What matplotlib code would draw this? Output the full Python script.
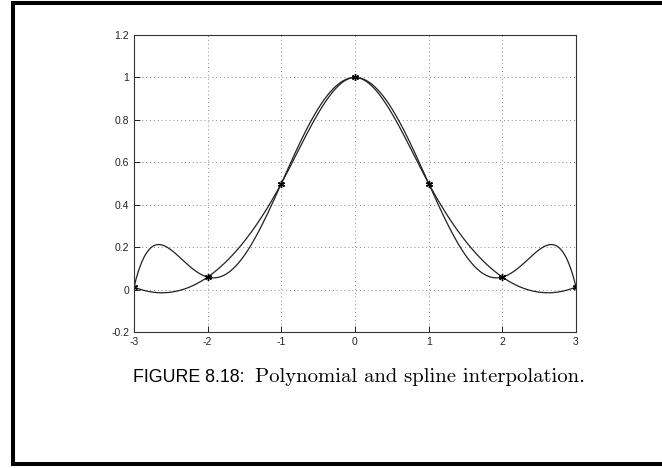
import numpy as np
import matplotlib
matplotlib.use("Agg")
import matplotlib.pyplot as plt
from matplotlib.lines import Line2D

# interpolation nodes
x_nodes = [-3, -2, -1, 0, 1, 2, 3]
y_nodes = [0.012, 0.059, 0.5, 1.0, 0.5, 0.059, 0.012]

x_ticks = [-3, -2, -1, 0, 1, 2, 3]
y_ticks = [-0.2, 0, 0.2, 0.4, 0.6, 0.8, 1, 1.2]
y_tick_labels = ["-0.2", "0", "0.2", "0.4", "0.6", "0.8", "1", "1.2"]


def notaknot_spline(xk, yk, xs):
    # cubic spline with not-a-knot end conditions (like MATLAB's spline)
    xk = np.asarray(xk, float)
    yk = np.asarray(yk, float)
    n = len(xk)
    h = np.diff(xk)
    A = np.zeros((n, n))
    b = np.zeros(n)
    A[0, 0], A[0, 1], A[0, 2] = h[1], -(h[0] + h[1]), h[0]
    A[-1, -3], A[-1, -2], A[-1, -1] = h[-1], -(h[-2] + h[-1]), h[-2]
    for i in range(1, n - 1):
        A[i, i - 1] = h[i - 1]
        A[i, i] = 2 * (h[i - 1] + h[i])
        A[i, i + 1] = h[i]
        b[i] = 6 * ((yk[i + 1] - yk[i]) / h[i] - (yk[i] - yk[i - 1]) / h[i - 1])
    M = np.linalg.solve(A, b)
    idx = np.clip(np.searchsorted(xk, xs) - 1, 0, n - 2)
    x0, x1 = xk[idx], xk[idx + 1]
    hh = x1 - x0
    t0 = x1 - xs
    t1 = xs - x0
    return (M[idx] * t0**3 / (6 * hh) + M[idx + 1] * t1**3 / (6 * hh)
            + (yk[idx] / hh - M[idx] * hh / 6) * t0
            + (yk[idx + 1] / hh - M[idx + 1] * hh / 6) * t1)


xs = np.linspace(-3, 3, 601)
poly = np.polyval(np.polyfit(x_nodes, y_nodes, 6), xs)
spl = notaknot_spline(x_nodes, y_nodes, xs)

fig = plt.figure(figsize=(6.62, 4.68), dpi=100)
ax = fig.add_axes([134 / 662, 1 - 332 / 468, 442 / 662, 297 / 468])

ax.plot(xs, poly, color="#222222", lw=0.9)
ax.plot(xs, spl, color="#222222", lw=0.9)
ax.plot(x_nodes, y_nodes, ls="none", marker=(6, 2, 0), ms=5, mew=1.0,
        color="black")

ax.set_xlim(-3, 3)
ax.set_ylim(-0.2, 1.2)
ax.set_xticks(x_ticks)
ax.set_xticklabels([str(v) for v in x_ticks])
ax.set_yticks(y_ticks)
ax.set_yticklabels(y_tick_labels)
ax.grid(True, ls=(0, (1, 3)), color="#888888", lw=0.7)
ax.tick_params(direction="in", length=4, width=0.7, labelsize=7.5,
               colors="#222222", pad=3.5)
for s in ax.spines.values():
    s.set_linewidth(0.8)
    s.set_color("#333333")
for lab in ax.get_xticklabels() + ax.get_yticklabels():
    lab.set_fontfamily("Liberation Sans")

# caption: sans label, then the serif text right after it
lbl = fig.text(133 / 662, 1 - 382 / 468, "FIGURE 8.18:", family="Liberation Sans",
               fontsize=12.8, ha="left", va="baseline")
fig.canvas.draw()
bb = lbl.get_window_extent()
fig.text((bb.x1 + 11) / 662, 1 - 382 / 468, "Polynomial and spline interpolation.",
         family="cmr10", fontsize=14.9, ha="left", va="baseline")

# page border
kw = dict(color="black", lw=2.9, solid_capstyle="butt", transform=None)
fig.add_artist(Line2D([13, 13], [468 - 1, 468 - 466], **kw))
fig.add_artist(Line2D([11, 662], [468 - 3, 468 - 3], **kw))
fig.add_artist(Line2D([11, 662], [468 - 464, 468 - 464], **kw))

fig.savefig("out.png", dpi=100)
